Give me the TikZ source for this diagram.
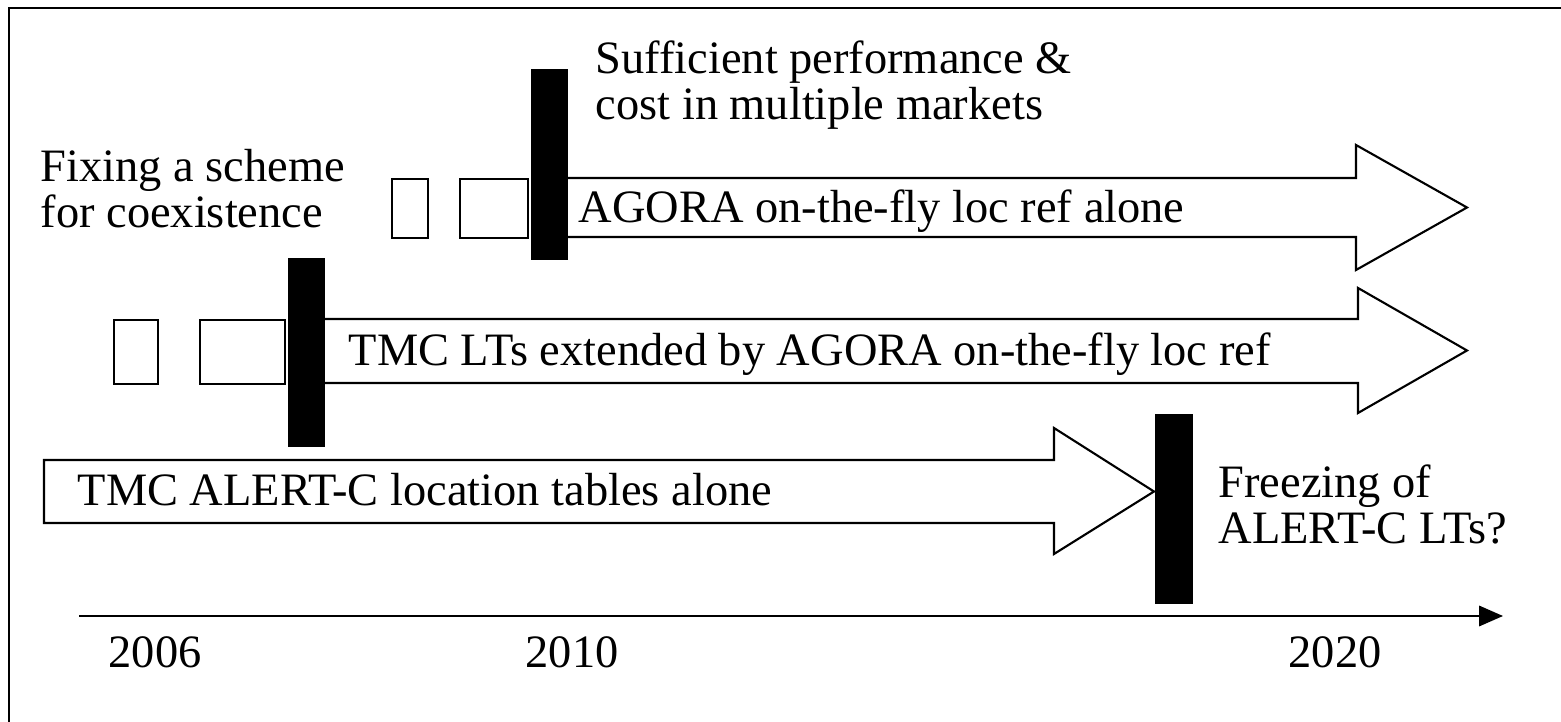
\documentclass[tikz,border=0pt]{standalone}
\usepackage{fontspec}
\setmainfont{Liberation Serif}
\usetikzlibrary{arrows.meta}
\begin{document}
\begin{tikzpicture}[x=0.01cm,y=-0.01cm,
  txt/.style={inner sep=0pt,anchor=base west,align=left,font=\fontsize{13.2pt}{13.3pt}\selectfont},
  yr/.style={inner sep=0pt,anchor=base west,font=\fontsize{13.2pt}{13.3pt}\selectfont},
  blockarrow/.style={draw=black,fill=white,line width=0.6pt,line join=miter},
  slot/.style={draw=black,fill=white,line width=0.6pt,inner sep=0pt,anchor=north west},
  milestone/.style={fill=black,draw=none,inner sep=0pt,anchor=north west},
  axisline/.style={line width=0.6pt,-{Triangle[length=6.8pt,width=5.8pt]}}]
\useasboundingbox (0,0) rectangle (1561,722);
% frame (only top and left sides visible)
\draw[line width=0.8pt] (9,722) -- (9,8) -- (1561,8);

% block arrows
\draw[blockarrow] (545,178) -- (1356,178) -- (1356,145) -- (1467,207.5) -- (1356,270) -- (1356,237) -- (545,237) -- cycle;
\draw[blockarrow] (305,319) -- (1358,319) -- (1358,288) -- (1467,350.5) -- (1358,413) -- (1358,383) -- (305,383) -- cycle;
\draw[blockarrow] (44,460) -- (1054,460) -- (1054,428) -- (1154,491.5) -- (1054,554) -- (1054,523) -- (44,523) -- cycle;

% small empty slots
\node[slot,minimum width=36*0.2845pt,minimum height=59*0.2845pt] (s1a) at (391,178) {};
\node[slot,minimum width=68*0.2845pt,minimum height=59*0.2845pt] (s1b) at (459,178) {};
\node[slot,minimum width=44*0.2845pt,minimum height=64*0.2845pt] (s2a) at (113,319) {};
\node[slot,minimum width=85*0.2845pt,minimum height=64*0.2845pt] (s2b) at (199,319) {};

% milestone bars
\node[milestone,minimum width=37*0.2845pt,minimum height=191*0.2845pt] (barA) at (530,68) {};
\node[milestone,minimum width=37*0.2845pt,minimum height=189*0.2845pt] (barB) at (287,257) {};
\node[milestone,minimum width=38*0.2845pt,minimum height=190*0.2845pt] (barC) at (1154,413) {};

% time axis
\coordinate (ax0) at (79,616);
\coordinate (ax1) at (1503,616);
\draw[axisline] (ax0) -- (ax1);

% texts (base anchor of a two-line node = baseline of its last line)
\node[txt] (t1) at (595,120) {Sufficient performance \&\\cost in multiple markets};
\node[txt] (t2) at (40,228) {Fixing a scheme\\for coexistence};
\node[txt] (t3) at (578,223) {AGORA on-the-fly loc ref alone};
\node[txt] (t4) at (348,366) {TMC LTs extended by AGORA on-the-fly loc ref};
\node[txt] (t5) at (77,506) {TMC ALERT-C location tables alone};
\node[txt] (t6) at (1218,544) {Freezing of\\ALERT-C LTs?};
\node[yr] (y1) at (108,667) {2006};
\node[yr] (y2) at (525,667) {2010};
\node[yr] (y3) at (1288,667) {2020};
\end{tikzpicture}
\end{document}
